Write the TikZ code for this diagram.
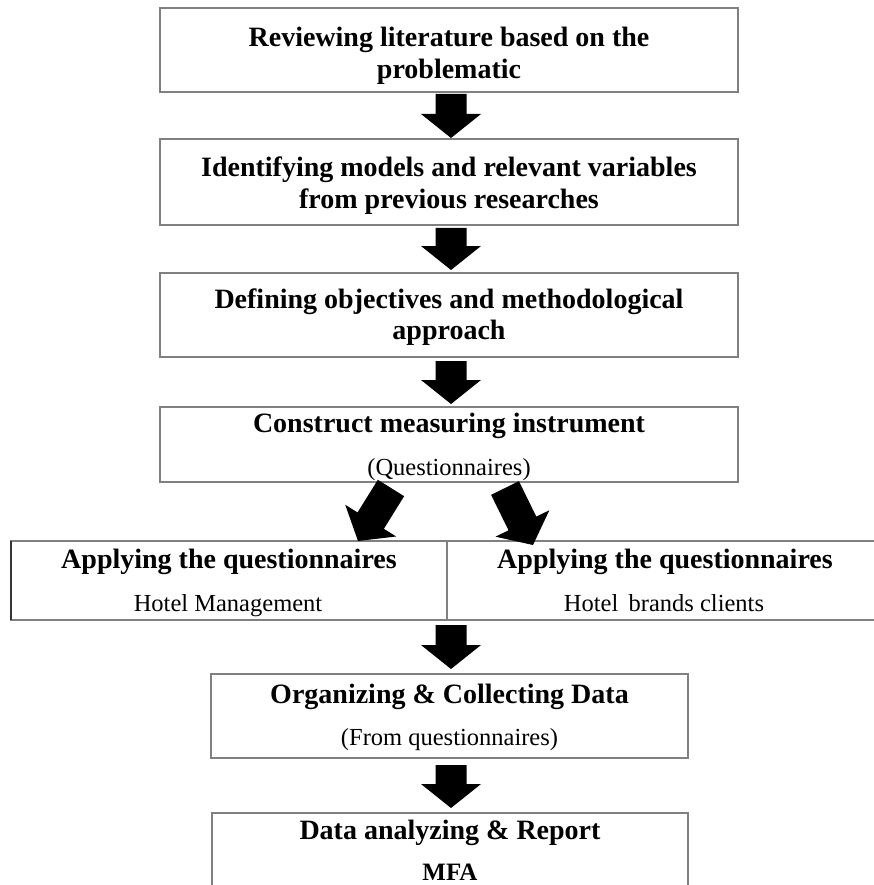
\documentclass[tikz,border=0pt]{standalone}
\usepackage{fontspec}
\setmainfont{Liberation Serif}
\usetikzlibrary{calc}

\definecolor{boxgray}{RGB}{128,128,128}

\tikzset{
  box/.style={draw=boxgray, line width=1.6pt, rectangle, inner sep=0pt, outer sep=0pt, fill=white},
  head/.style={font=\fontsize{28}{31.5}\selectfont\bfseries, inner sep=0pt, align=center},
  sub/.style={font=\fontsize{24.5}{28}\selectfont, inner sep=0pt},
  tag/.style={font=\fontsize{25}{28}\selectfont\bfseries, inner sep=0pt},
}

% thick block arrow from tail point #1 to tip point #2
\newcommand\blockarrow[2]{%
  \path ($(#2)!24pt!(#1)$) coordinate (nk);
  \fill[black] ($(#1)!15.5pt!90:(#2)$) -- ($(nk)!15.5pt!90:(#2)$)
    -- ($(nk)!30pt!90:(#2)$) -- (#2) -- ($(nk)!30pt!-90:(#2)$)
    -- ($(nk)!15.5pt!-90:(#2)$) -- ($(#1)!15.5pt!-90:(#2)$) -- cycle;
}

\begin{document}
\begin{tikzpicture}[x=1pt, y=-1pt]
  \useasboundingbox (0,0) rectangle (874,885);
  \fill[white] (0,0) rectangle (874,885);
  \clip (0,0) rectangle (874,885);

  % process boxes
  \node[box, minimum width=578pt, minimum height=84pt] (b1) at (449,50) {};
  \node[box, minimum width=578pt, minimum height=86pt] (b2) at (449,182) {};
  \node[box, minimum width=578pt, minimum height=84pt] (b3) at (449,315) {};
  \node[box, minimum width=578pt, minimum height=75pt] (b4) at (449,444.5) {};
  \node[box, minimum width=872pt, minimum height=79pt] (b5) at (447,580.5) {};
  \node[box, minimum width=477pt, minimum height=84pt] (b6) at (449.5,716) {};
  \node[box, minimum width=476pt, minimum height=87pt] (b7) at (450,856.5) {};

  % split of the questionnaire box
  \draw[boxgray, line width=1.6pt] (b5.north) -- (b5.south);
  \draw[black!80, line width=1.8pt] (b5.north west) -- (b5.south west);

  % box texts
  \node[head, anchor=north] (t1) at ($(b1.north)+(0,19)$)
    {Reviewing literature based on the\\problematic};
  \node[head, anchor=north] (t2) at ($(b2.north)+(0,18)$)
    {Identifying models and relevant variables\\from previous researches};
  \node[head, anchor=north] (t3) at ($(b3.north)+(0,15.5)$)
    {Defining objectives and methodological\\approach};

  \node[head, anchor=base] (t4) at ($(b4.north)+(0,25)$) {Construct measuring instrument};
  \node[sub, anchor=base] (s4) at ($(b4.south)+(0,-7)$) {(Questionnaires)};

  \node[head, anchor=base] (t5a) at ($(b5.north west)+(218,27)$) {Applying the questionnaires};
  \node[head, anchor=base] (t5b) at ($(b5.north east)+(-218,27)$) {Applying the questionnaires};
  \node[sub, anchor=base] (s5a) at ($(b5.south west)+(217,-9)$) {Hotel Management};
  \node[sub, anchor=base] (s5b) at ($(b5.south east)+(-219,-9)$) {Hotel\, brands clients};

  \node[head, anchor=base] (t6) at ($(b6.north)+(0,29)$) {Organizing \& Collecting Data};
  \node[sub, anchor=base] (s6) at ($(b6.south)+(0,-13)$) {(From questionnaires)};

  \node[head, anchor=base] (t7) at ($(b7.north)+(0,26)$) {Data analyzing \& Report};
  \node[tag, anchor=base] (s7) at ($(b7.north)+(0,67)$) {MFA};

  % arrow end points
  \coordinate (a1t) at ($(b1.south)+(2,2)$);
  \coordinate (a1h) at ($(b2.north)+(2,-1)$);
  \coordinate (a2t) at ($(b2.south)+(2,3)$);
  \coordinate (a2h) at ($(b3.north)+(2,-3)$);
  \coordinate (a3t) at ($(b3.south)+(2,4)$);
  \coordinate (a3h) at ($(b4.north)+(2,-3)$);
  \coordinate (d1t) at ($(b4.south)+(-58,6)$);
  \coordinate (d1h) at ($(b5.north)+(-89,0)$);
  \coordinate (d2t) at ($(b4.south)+(56,6)$);
  \coordinate (d2h) at ($(b5.north)+(86,4)$);
  \coordinate (a4t) at ($(b5.south)+(4,5)$);
  \coordinate (a4h) at ($(b6.north)+(1.5,-5)$);
  \coordinate (a5t) at ($(b6.south)+(1.5,7)$);
  \coordinate (a5h) at ($(b7.north)+(1,-5)$);

  % block arrows
  \blockarrow{a1t}{a1h}
  \blockarrow{a2t}{a2h}
  \blockarrow{a3t}{a3h}
  \blockarrow{d1t}{d1h}
  \blockarrow{d2t}{d2h}
  \blockarrow{a4t}{a4h}
  \blockarrow{a5t}{a5h}
\end{tikzpicture}
\end{document}
